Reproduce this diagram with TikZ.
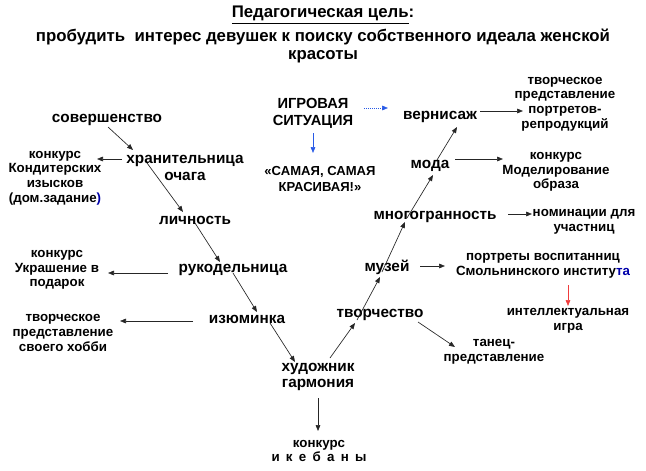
\documentclass[tikz,border=0pt]{standalone}
\usepackage{fontspec}
\setmainfont{Liberation Sans}
\usetikzlibrary{arrows.meta}
\definecolor{inkblue}{RGB}{0,0,170}
\definecolor{arrblue}{RGB}{40,90,230}
\definecolor{arrred}{RGB}{240,60,60}

\begin{document}
\begin{tikzpicture}
  [x=0.75pt,y=-0.75pt,every node/.style={align=center,inner sep=0pt},
   head/.style={font=\fontsize{12.6}{13.5}\selectfont\bfseries},
   big/.style={font=\fontsize{11.5}{12.5}\selectfont\bfseries},
   note/.style={font=\fontsize{10}{11}\selectfont\bfseries},
   arr/.style={-{Triangle[length=4.5pt,width=3.5pt]},line width=0.5pt,draw=black!85}]
  \useasboundingbox (0,0) rectangle (646,471);

  \node[head] (title) at (323,15) {\underline{Педагогическая цель}:};
  \node[head] (goal) at (323,46) {пробудить \ интерес девушек к поиску собственного идеала женской\\красоты};

  \node[font=\fontsize{11}{12.75}\selectfont\bfseries] (igra) at (313,113) {ИГРОВАЯ\\СИТУАЦИЯ};
  \node[note,font=\fontsize{9.8}{12}\selectfont\bfseries] (samaya) at (320,179) {«САМАЯ, САМАЯ\\КРАСИВАЯ!»};

  \node[big] (sover) at (107,120) {совершенство};
  \node[big] (hran) at (185,168) {хранительница\\очага};
  \node[big] (lich) at (195,220) {личность};
  \node[big] (ruk) at (233,270) {рукодельница};
  \node[big] (izum) at (247,319) {изюминка};
  \node[big] (khud) at (318,377) {художник\\гармония};
  \node[big] (tvor) at (380,315) {творчество};
  \node[big] (muz) at (387,267) {музей};
  \node[big] (mnog) at (435,217) {многогранность};
  \node[big] (moda) at (430,166) {мода};
  \node[big] (vern) at (440,117) {вернисаж};

  \node[note] (kond) at (55,178) {конкурс\\Кондитерских\\изысков\\(дом.задание\textcolor{inkblue}{)}};
  \node[note] (ukr) at (57,270) {конкурс\\Украшение в\\подарок};
  \node[note] (hobbi) at (63,333) {творческое\\представление\\своего хобби};
  \node[note] (ikeb) at (319,451) {конкурс\\{\spaceskip=4.7pt и к е б а н ы}};
  \node[note] (portr) at (565,104) {творческое\\представление\\портретов-\\репродукций};
  \node[note] (model) at (556,172) {конкурс\\Моделирование\\образа};
  \node[note] (nomin) at (584,222) {номинации для\\участниц};
  \node[note] (smoln) at (543,266) {портреты воспитанниц\\Смольнинского институ\textcolor{inkblue}{та}};
  \node[note] (intel) at (568,321) {интеллектуальная\\игра};
  \node[note] (tanec) at (494,352) {танец-\\представление};

  % left branch
  \path[every edge/.style={arr}]
    ([shift={(1,7)}]sover.center) edge ([shift={(-52,-18)}]hran.center)
    ([shift={(-38,-5)}]hran.center) edge ([shift={(-12,-8)}]lich.center)
    ([shift={(0,3)}]lich.center) edge ([shift={(-13,-8)}]ruk.center)
    ([shift={(0,3)}]ruk.center) edge ([shift={(10,-7)}]izum.center)
    ([shift={(23,4)}]izum.center) edge ([shift={(-23,-15)}]khud.center)
    ([shift={(-63,-9)}]hran.center) edge ([shift={(42,-19)}]kond.center)
    ([shift={(-65,3)}]ruk.center) edge ([shift={(51,3)}]ukr.center)
    ([shift={(-54,2)}]izum.center) edge ([shift={(57,-12)}]hobbi.center)
    ([shift={(0,21)}]khud.center) edge ([shift={(-1,-20)}]ikeb.center);

  % right branch
  \path[every edge/.style={arr}]
    ([shift={(12,-19)}]khud.center) edge ([shift={(-25,8)}]tvor.center)
    ([shift={(-23,5)}]tvor.center) edge ([shift={(-7,10)}]muz.center)
    ([shift={(-5,5)}]muz.center) edge ([shift={(-30,5)}]mnog.center)
    ([shift={(-28,1)}]mnog.center) edge ([shift={(3,9)}]moda.center)
    ([shift={(7,-6)}]moda.center) edge ([shift={(17,10)}]vern.center)
    ([shift={(40,-6)}]vern.center) edge ([shift={(-42,7)}]portr.center)
    ([shift={(25,-7)}]moda.center) edge ([shift={(-53,-13)}]model.center)
    ([shift={(73,-3)}]mnog.center) edge ([shift={(-52,-8)}]nomin.center)
    ([shift={(33,-1)}]muz.center) edge ([shift={(-98,0)}]smoln.center)
    ([shift={(38,7)}]tvor.center) edge ([shift={(-39,-5)}]tanec.center);

  % coloured arrows
  \path[every edge/.style={arr,draw=arrblue,densely dotted}]
    ([shift={(51,-5)}]igra.center) edge ([shift={(-52,-9)}]vern.center);
  \path[every edge/.style={arr,draw=arrblue}]
    ([shift={(0,20)}]igra.center) edge ([shift={(-7,-26)}]samaya.center);
  \path[every edge/.style={arr,draw=arrred}]
    ([shift={(25,19)}]smoln.center) edge ([shift={(0,-15)}]intel.center);
\end{tikzpicture}
\end{document}
